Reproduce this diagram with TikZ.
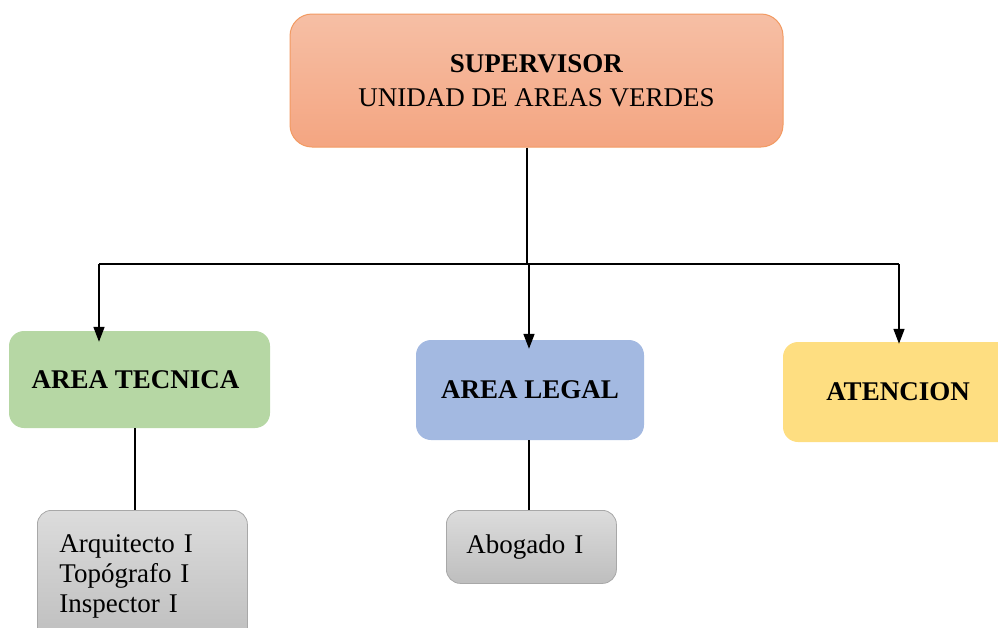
\documentclass[tikz,border=0pt]{standalone}
\usepackage{fontspec}
\setmainfont{Liberation Serif}
\usetikzlibrary{arrows.meta,positioning}
\definecolor{supTop}{HTML}{F6BFA5}
\definecolor{supBot}{HTML}{F4A581}
\definecolor{supLine}{HTML}{F29A62}
\definecolor{tecFill}{HTML}{B6D7A4}
\definecolor{legFill}{HTML}{A3B9E1}
\definecolor{atenFill}{HTML}{FEDE81}
\definecolor{grayTop}{HTML}{DCDCDC}
\definecolor{grayBot}{HTML}{BEBEBE}
\definecolor{grayLine}{HTML}{A8A8A8}
\tikzset{
  basebox/.style={rounded corners=15pt, inner sep=0pt, align=center,
    font=\fontsize{27}{30}\selectfont\bfseries},
  areabox/.style={basebox, draw=none},
  staffbox/.style={rounded corners=14pt, draw=grayLine, line width=0.8pt,
    top color=grayTop, bottom color=grayBot, inner xsep=22pt, inner ysep=0pt,
    align=left, font=\fontsize{27}{30}\selectfont},
  conn/.style={line width=1.6pt, black},
  arr/.style={conn, -{Triangle[length=15pt,width=11pt]}},
}
\begin{document}
\begin{tikzpicture}[x=1pt,y=-1pt]
\useasboundingbox (0,0) rectangle (998,627);
\clip (0,0) rectangle (998,627);
% top box
\node[basebox, draw=supLine, line width=1pt, rounded corners=22pt,
  top color=supTop, bottom color=supBot,
  minimum width=493pt, minimum height=133pt,
  font=\fontsize{27}{34}\selectfont] (sup) at (536.5,80.5)
  {\textbf{SUPERVISOR}\\UNIDAD DE AREAS VERDES};
% area boxes
\node[areabox, fill=tecFill, minimum width=261pt, minimum height=97pt] (tec) at (139.5,379.5) {\hspace*{-8pt}AREA TECNICA};
\node[areabox, fill=legFill, minimum width=228pt, minimum height=100pt] (leg) at (530,390) {\raisebox{-3pt}{AREA LEGAL}};
\node[areabox, fill=atenFill, minimum width=230pt, minimum height=100pt] (ate) at (898,392) {\raisebox{-2pt}{ATENCION}};
% staff boxes
\node[staffbox, text width=166pt, minimum width=210pt, minimum height=132pt, anchor=north west] (st1) at (37,510)
  {Arquitecto I\\Topógrafo I\\Inspector I};
\node[staffbox, inner xsep=20pt, text width=130pt, minimum width=170pt, minimum height=73pt, anchor=north west] (st2) at (446,510)
  {\raisebox{-4pt}{Abogado I}};
% connectors
\coordinate (j) at (527,264);
\coordinate (jl) at (99,264);
\coordinate (jm) at (529,264);
\coordinate (jr) at (899,264);
\draw[conn] (sup.south -| j) -- (j);
\draw[conn] (jl) -- (jr);
\draw[arr] (jl) -- ([yshift=-11pt]jl |- tec.north);
\draw[arr] (jm) -- ([yshift=-9pt]jm |- leg.north);
\draw[arr] (jr) -- ([yshift=-2pt]jr |- ate.north);
\draw[conn, line width=1.3pt] (tec.south -| 135,0) -- (st1.north -| 135,0);
\draw[conn, line width=1.3pt] (leg.south -| 529,0) -- (st2.north -| 529,0);
\end{tikzpicture}
\end{document}
